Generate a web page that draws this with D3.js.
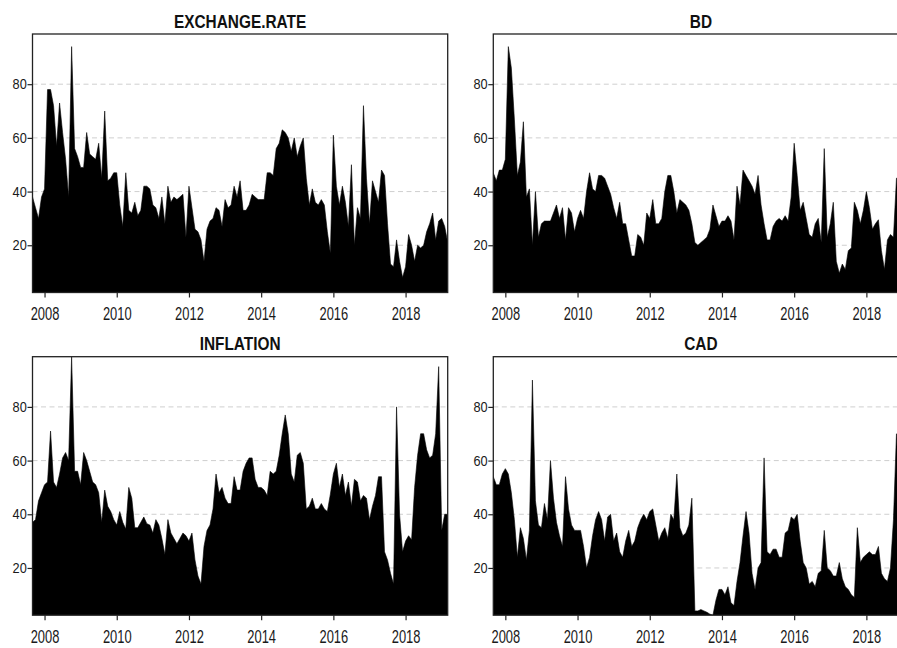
<!DOCTYPE html>
<html>
<head>
<meta charset="utf-8">
<script src="https://cdn.jsdelivr.net/npm/d3@7/dist/d3.min.js"></script>
<style>
  body { margin: 0; background: #fff; }
  text { font-family: 'Liberation Sans', Arial, sans-serif; }
</style>
</head>
<body>
<div id="chart"></div>
<script>
// monthly series, Sep 2007 .. Mar 2019
var startYear = 2007
var startMonth = 9

var titles = ['EXCHANGE.RATE', 'BD', 'INFLATION', 'CAD']
var yearTicks = [2008, 2010, 2012, 2014, 2016, 2018]
var valueTicks = [20, 40, 60, 80]

var exchangeRate = [
  38, 34, 30, 38, 41, 78, 78, 72, 57, 73,
  62, 52, 38, 94, 56, 53, 49, 49, 62, 54,
  53, 52, 58, 45, 70, 44, 45, 47, 47, 35,
  27, 47, 33, 32, 36, 31, 33, 42, 42, 41,
  35, 34, 30, 38, 28, 42, 36, 38, 37, 38,
  39, 23, 42, 34, 26, 25, 22, 14, 26, 29,
  30, 34, 33, 27, 37, 34, 35, 42, 38, 44,
  33, 33, 35, 39, 38, 37, 37, 37, 47, 47,
  46, 56, 58, 63, 62, 60, 55, 60, 53, 57,
  60, 45, 35, 41, 36, 35, 37, 35, 25, 17,
  61, 42, 35, 42, 36, 27, 50, 20, 34, 30,
  72, 45, 28, 44, 40, 36, 48, 46, 28, 13,
  12, 22, 14, 8, 12, 24, 20, 14, 20, 19,
  20, 25, 28, 32, 22, 29, 30, 27, 21
]
var bd = [
  47, 44, 48, 48, 52, 94, 86, 67, 46, 51,
  66, 38, 41, 20, 40, 23, 28, 29, 29, 29,
  32, 35, 30, 34, 22, 34, 32, 25, 30, 33,
  30, 40, 47, 41, 40, 46, 46, 45, 42, 39,
  34, 30, 36, 28, 28, 22, 16, 16, 24, 23,
  20, 32, 30, 37, 28, 28, 30, 40, 46, 46,
  40, 32, 37, 36, 35, 33, 28, 21, 20, 21,
  22, 23, 26, 35, 31, 27, 29, 29, 31, 29,
  22, 42, 35, 48, 46, 44, 42, 39, 46, 35,
  28, 22, 22, 27, 29, 30, 29, 31, 29, 38,
  58, 46, 33, 36, 30, 24, 23, 28, 30, 21,
  56, 23, 28, 36, 14, 9.6, 13, 11, 18, 19,
  36, 33, 28, 33, 40, 34, 26, 28, 29.5, 18,
  11, 22, 24, 23, 45, 45, 35, 30, 28
]
var inflation = [
  37, 38, 45, 48, 51, 52, 71, 52, 50, 55,
  61, 63, 60, 98.7, 56, 56, 51, 63, 60, 56,
  52, 51, 48, 37, 49, 43, 41, 38, 36, 41,
  37, 34.5, 50, 46, 35, 35, 37, 39, 36.5, 36,
  33, 38, 36, 31, 25, 38, 33, 31, 29, 31,
  33, 32, 30, 33, 23, 17, 14, 28, 34, 36,
  42, 55, 48, 50, 46, 44, 44, 54, 49, 49,
  56, 59, 61, 61, 53, 50, 50, 49, 47, 56,
  55, 56, 62, 70, 77, 70, 55, 52, 62, 63,
  59, 42, 43, 46, 42, 42, 44, 42, 41, 47.5,
  55, 59, 50, 55, 47, 52, 43, 53, 52, 45,
  47, 46, 38, 43, 47, 54, 54, 26, 23, 18,
  14, 80, 40, 26, 30, 32, 30.5, 50, 62, 70,
  70, 64, 61, 62, 70, 95, 34, 40, 40
]
var cad = [
  54, 51, 51, 55, 57, 55, 48, 38, 24, 35,
  31, 23, 34, 90, 45, 36, 35, 44, 38, 60,
  46, 37, 32, 28, 54, 42, 36, 34, 34, 34,
  28, 20, 24, 32, 38, 41, 38, 30, 39, 40,
  30, 33, 26, 24, 30, 34, 28, 30, 35, 38,
  40, 38, 41, 42, 36, 30, 33, 35, 31, 40,
  38, 55, 35, 32, 33, 36, 46, 4, 4, 4.5,
  4, 3.5, 2.8, 2.4, 8, 12, 12, 10, 13, 7,
  6, 15, 22, 32, 41, 33, 18, 12, 20, 22,
  61, 26, 25, 27, 27, 24, 24, 33, 34, 39,
  38, 40, 30, 22, 20, 14, 15, 13, 18, 19,
  34, 20, 19, 17, 17, 22, 16, 13, 12, 10,
  9, 35, 22, 24, 25, 26, 25, 25, 28, 18,
  16, 15, 20, 38, 70, 60, 50, 45, 40
]

var seriesList = [exchangeRate, bd, inflation, cad]

var width = 897
var height = 648
var panelW = 415.2
var panelH = 258.5
var panelX = [32.5, 493.3]
var panelY = [34, 356.7]

var svg = d3.select('#chart').append('svg')
            .attr('width', width)
            .attr('height', height)
            .style('display', 'block')

svg.append('rect').attr('width', width).attr('height', height).attr('fill', '#fff')

var n = exchangeRate.length
var months = d3.range(n).map(function(i) { return startYear + (startMonth - 1 + i) / 12 })

var x = d3.scaleLinear()
          .domain(d3.extent(months))
          .range([0, panelW])

// common y range over all four series
var y = d3.scaleLinear()
          .domain(d3.extent(d3.merge(seriesList)))
          .range([panelH, 0])

var area = d3.area()
             .x(function(d, i) { return x(months[i]) })
             .y0(panelH)
             .y1(function(d) { return y(d) })

seriesList.forEach(function(values, k) {
  var px = panelX[k % 2]
  var py = panelY[Math.floor(k / 2)]
  var g = svg.append('g').attr('transform', 'translate(' + px + ',' + py + ')')

  g.append('clipPath').attr('id', 'clip' + k)
   .append('rect').attr('width', panelW).attr('height', panelH)

  // dashed grid
  g.selectAll('.grid')
   .data(valueTicks)
   .enter().append('line')
     .attr('x1', 0).attr('x2', panelW)
     .attr('y1', function(d) { return y(d) })
     .attr('y2', function(d) { return y(d) })
     .attr('stroke', '#cfcfcf')
     .attr('stroke-dasharray', '5,3.5')

  g.append('path')
   .datum(values)
   .attr('clip-path', 'url(#clip' + k + ')')
   .attr('d', area)
   .attr('fill', '#000')
   .attr('stroke', '#000')
   .attr('stroke-width', 0.6)

  g.append('rect')
   .attr('width', panelW).attr('height', panelH)
   .attr('fill', 'none')
   .attr('stroke', '#222')
   .attr('stroke-width', 1.3)

  var xAxis = g.append('g')
               .attr('transform', 'translate(0,' + panelH + ')')
               .call(d3.axisBottom(x).tickValues(yearTicks).tickFormat(d3.format('d'))
                       .tickSize(5).tickPadding(9.5))
  xAxis.select('.domain').remove()
  xAxis.selectAll('line').attr('stroke', '#222').attr('stroke-width', 1.2)
  xAxis.selectAll('text')
       .attr('fill', '#1a1a1a')
       .style('font-size', '19px')
       .attr('transform', 'scale(0.68,1)')

  var yAxis = g.append('g')
               .call(d3.axisLeft(y).tickValues(valueTicks).tickSize(5).tickPadding(1.5))
  yAxis.select('.domain').remove()
  yAxis.selectAll('line').attr('stroke', '#222').attr('stroke-width', 1.2)
  yAxis.selectAll('text')
       .attr('fill', '#1a1a1a')
       .style('font-size', '14.5px')
       .attr('transform', 'scale(0.88,1)')

  g.append('text')
   .attr('transform', 'translate(' + (panelW / 2) + ',-6.5) scale(0.88,1)')
   .attr('text-anchor', 'middle')
   .attr('fill', '#111')
   .style('font-size', '17.5px')
   .style('font-weight', 'bold')
   .text(titles[k])
})
</script>
</body>
</html>
